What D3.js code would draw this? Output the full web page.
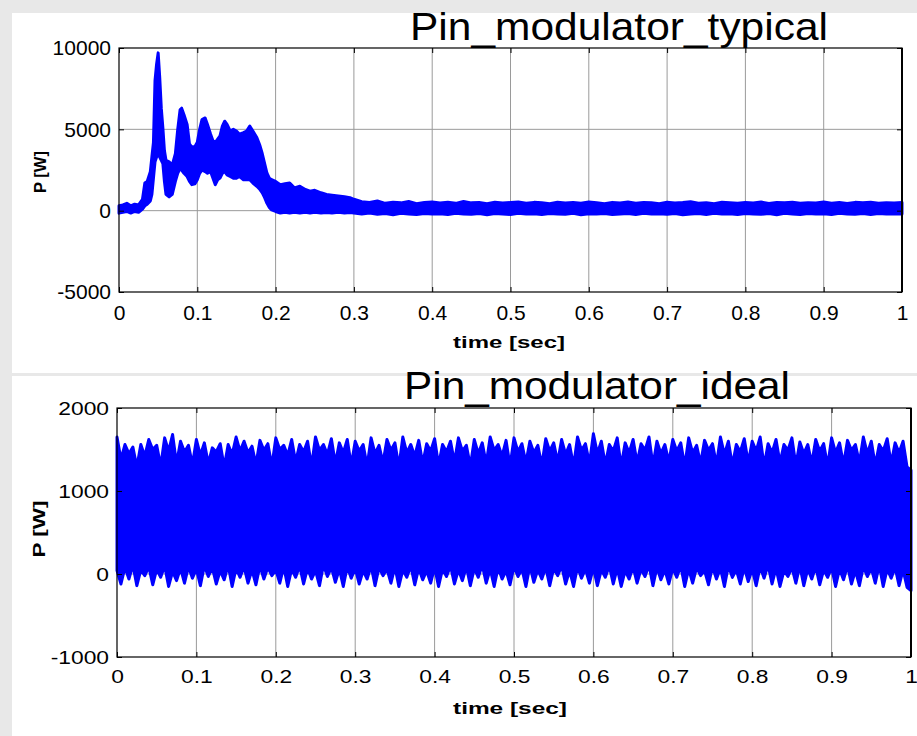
<!DOCTYPE html>
<html>
<head>
<meta charset="utf-8">
<script src="https://cdn.jsdelivr.net/npm/d3@7"></script>
<style>
  html, body { margin: 0; padding: 0; background: #e8e8e8; }
  svg { display: block; }
  text { font-family: "Liberation Sans", Arial, sans-serif; }
</style>
</head>
<body>
<svg id="chart" width="917" height="736"></svg>
<script>
// ---------------- DATA ----------------
const xTicks = [0, 0.1, 0.2, 0.3, 0.4, 0.5, 0.6, 0.7, 0.8, 0.9, 1];
const xTickLabels = ["0", "0.1", "0.2", "0.3", "0.4", "0.5", "0.6", "0.7", "0.8", "0.9", "1"];
const topYTicks = [-5000, 0, 5000, 10000];
const topYTickLabels = ["-5000", "0", "5000", "10000"];
const botYTicks = [-1000, 0, 1000, 2000];
const botYTickLabels = ["-1000", "0", "1000", "2000"];
const titles = ["Pin_modulator_typical", "Pin_modulator_ideal"];
const xLabel = "time [sec]";
const yLabel = "P [W]";

// Top panel (typical): time, upper and lower envelope of the fast oscillation
const topTime = [0, 0.005, 0.01, 0.015, 0.02, 0.025, 0.03, 0.033, 0.036, 0.04, 0.042, 0.044, 0.046, 0.048, 0.05,
  0.052, 0.054, 0.056, 0.058, 0.06, 0.064, 0.068, 0.072, 0.075, 0.078, 0.08, 0.083, 0.087, 0.09, 0.093, 0.097,
  0.1, 0.103, 0.106, 0.11, 0.113, 0.117, 0.12, 0.123, 0.126, 0.129, 0.132, 0.135, 0.138, 0.142, 0.146, 0.15,
  0.154, 0.159, 0.163, 0.167, 0.171, 0.176, 0.18, 0.183, 0.186, 0.189, 0.192, 0.195, 0.2, 0.206, 0.212, 0.218,
  0.224, 0.231, 0.238, 0.244, 0.25, 0.258, 0.265, 0.272, 0.28, 0.288, 0.295, 0.3,
  0.31, 0.32, 0.33, 0.34, 0.35, 0.36, 0.37, 0.38, 0.39, 0.4, 0.41, 0.42, 0.43, 0.44, 0.45, 0.46, 0.47, 0.48, 0.49,
  0.5, 0.51, 0.52, 0.53, 0.54, 0.55, 0.56, 0.57, 0.58, 0.59, 0.6, 0.61, 0.62, 0.63, 0.64, 0.65, 0.66, 0.67, 0.68,
  0.69, 0.7, 0.71, 0.72, 0.73, 0.74, 0.75, 0.76, 0.77, 0.78, 0.79, 0.8, 0.81, 0.82, 0.83, 0.84, 0.85, 0.86, 0.87,
  0.88, 0.89, 0.9, 0.91, 0.92, 0.93, 0.94, 0.95, 0.96, 0.97, 0.98, 0.99, 1];
const topHigh = [300, 350, 450, 300, 400, 350, 700, 1700, 1800, 2400, 3300, 4200, 8000, 9000, 9700,
  8200, 6300, 5100, 3700, 3100, 3000, 2800, 3500, 5000, 6200, 6300, 5900, 5300, 4100, 3900, 3950,
  4200, 5000, 5600, 5700, 5300, 4700, 4300, 4200, 4400, 4600, 5200, 5500, 5300, 4900, 5000, 4900,
  4700, 4800, 4900, 5200, 4900, 4500, 4000, 3500, 2900, 2300, 2000, 1900, 1800, 1600, 1650, 1700,
  1400, 1500, 1300, 1200, 1250, 1100, 1000, 950, 900, 850, 800, 700,
  550, 500, 600, 450, 520, 480, 560, 430, 500, 540, 470, 520, 450, 560, 480, 500, 430, 520, 470,
  500, 540, 450, 510, 480, 430, 520, 470, 500, 450, 540, 480, 420, 510, 470, 530, 450, 500, 480,
  430, 520, 470, 500, 550, 460, 490, 430, 520, 480, 450, 510, 470, 530, 440, 500, 480, 520, 450,
  490, 470, 530, 460, 500, 440, 510, 480, 520, 450, 490, 470, 500];
const topLow = [-150, -100, -50, -150, -50, -100, 100, 300, 400, 600, 1000, 2000, 3000, 3300, 3500,
  3300, 3100, 2900, 1800, 1000, 850, 1000, 1800, 2300, 2600, 2500, 2300, 2100, 1800, 1600, 1650,
  1900, 2300, 2500, 2400, 2300, 2400, 2000, 1600, 1900, 2000, 2300, 2400, 2200, 2100, 2000, 2000,
  2100, 1900, 1900, 1900, 1700, 1500, 1300, 1100, 800, 450, 200, 50, -50, -150, -100, -150,
  -100, -150, -100, -150, -100, -150, -120, -150, -100, -150, -120, -150,
  -200, -150, -220, -180, -250, -160, -200, -230, -170, -210, -190, -240, -160, -200, -220, -180, -250, -170, -200,
  -230, -160, -210, -190, -240, -170, -200, -220, -160, -250, -190, -210, -170, -230, -200, -180, -240, -160, -210,
  -190, -220, -170, -250, -200, -180, -230, -160, -210, -190, -240, -170, -200, -220, -180, -250, -160, -200, -230,
  -170, -210, -190, -240, -160, -200, -220, -180, -230, -170, -200, -190, -210];

// Bottom panel (ideal): samples every 0.005 s, upper and lower envelope
const botTime = d3.range(0, 201).map(i => +(i * 0.005).toFixed(3));
const botHigh = [
  1650, 1380, 1560, 1450, 1530, 1290, 1560, 1420, 1620, 1500, 1550, 1300, 1640, 1480, 1680, 1330, 1600, 1470, 1550, 1320,
  1620, 1430, 1580, 1330, 1520, 1470, 1570, 1290, 1560, 1440, 1650, 1480, 1600, 1460, 1540, 1320, 1610, 1490, 1570, 1300,
  1640, 1500, 1550, 1430, 1620, 1350, 1560, 1470, 1600, 1300, 1650, 1490, 1560, 1440, 1630, 1330, 1580, 1460, 1620, 1310,
  1600, 1480, 1560, 1300, 1640, 1450, 1550, 1340, 1620, 1490, 1580, 1290, 1650, 1460, 1560, 1420, 1610, 1330, 1570, 1480,
  1630, 1310, 1560, 1470, 1600, 1350, 1640, 1480, 1550, 1300, 1620, 1450, 1580, 1330, 1650, 1490, 1560, 1420, 1610, 1300,
  1640, 1470, 1570, 1340, 1600, 1460, 1550, 1310, 1630, 1480, 1580, 1350, 1620, 1440, 1560, 1300, 1650, 1490, 1570, 1330,
  1690, 1450, 1600, 1320, 1560, 1480, 1640, 1300, 1580, 1460, 1620, 1340, 1570, 1490, 1650, 1310, 1600, 1450, 1560, 1350,
  1620, 1480, 1580, 1300, 1640, 1460, 1550, 1330, 1610, 1490, 1570, 1320, 1650, 1440, 1600, 1310, 1560, 1470, 1630, 1340,
  1600, 1480, 1650, 1300, 1570, 1460, 1620, 1340, 1560, 1490, 1640, 1310, 1590, 1450, 1560, 1330, 1620, 1480, 1570, 1300,
  1640, 1460, 1580, 1320, 1610, 1490, 1560, 1340, 1650, 1450, 1600, 1310, 1560, 1480, 1630, 1330, 1580, 1460, 1600, 1290,
  1250];
const botLow = [
  40, -120, 80, -60, 110, -140, 50, -20, 90, -130, 60, -40, 100, -150, 30, -80, 70, -110, 90, -50,
  60, -140, 100, -30, 80, -120, 40, -70, 110, -150, 70, -40, 90, -110, 50, -130, 100, -60, 80, -20,
  50, -110, 90, -150, 60, -40, 100, -120, 70, -60, 40, -140, 110, -30, 80, -100, 60, -150, 90, -50,
  70, -120, 40, -60, 100, -140, 80, -20, 60, -110, 90, -150, 50, -40, 100, -130, 70, -70, 40, -110,
  80, -150, 60, -30, 100, -120, 50, -80, 90, -140, 70, -40, 110, -110, 60, -150, 80, -60, 40, -130,
  90, -30, 60, -150, 100, -100, 50, -60, 80, -140, 70, -20, 100, -120, 40, -150, 90, -50, 60, -110,
  80, -140, 50, -40, 100, -120, 70, -150, 40, -60, 90, -110, 60, -30, 110, -140, 80, -70, 50, -120,
  70, -40, 100, -150, 60, -110, 80, -20, 40, -130, 90, -60, 70, -150, 100, -40, 50, -120, 80, -90,
  60, -140, 90, -50, 110, -120, 70, -150, 40, -30, 80, -110, 100, -140, 60, -60, 90, -130, 50, -40,
  80, -150, 60, -70, 100, -120, 40, -140, 90, -30, 70, -110, 110, -150, 60, -50, 80, -140, 50, -160,
  -200];

// ---------------- DRAWING ----------------
const svg = d3.select("#chart");
svg.append("rect").attr("x", 0).attr("y", 0).attr("width", 917).attr("height", 736).attr("fill", "#e8e8e8");
svg.append("rect").attr("x", 12).attr("y", 13).attr("width", 905).attr("height", 360).attr("fill", "#ffffff");
svg.append("rect").attr("x", 12).attr("y", 376).attr("width", 905).attr("height", 360).attr("fill", "#ffffff");

function stretch(sel, factor) {
  sel.each(function () {
    const len = this.getComputedTextLength();
    d3.select(this).attr("textLength", len * factor).attr("lengthAdjust", "spacingAndGlyphs");
  });
}

function panel(cfg) {
  const g = svg.append("g");
  const x = d3.scaleLinear().domain([0, 1]).range([cfg.left, cfg.right]);
  const y = d3.scaleLinear().domain(cfg.yDomain).range([cfg.bottom, cfg.top]);

  // grid
  g.append("g").selectAll("line").data(xTicks.slice(1, -1)).join("line")
    .attr("x1", d => x(d)).attr("x2", d => x(d))
    .attr("y1", cfg.top).attr("y2", cfg.bottom)
    .attr("stroke", "#9a9a9a").attr("stroke-width", 1);
  g.append("g").selectAll("line").data(cfg.yTicks.slice(1, -1)).join("line")
    .attr("y1", d => y(d)).attr("y2", d => y(d))
    .attr("x1", cfg.left).attr("x2", cfg.right)
    .attr("stroke", "#9a9a9a").attr("stroke-width", 1);

  // data band (upper and lower envelope of the oscillating power)
  const n = Math.min(cfg.time.length, cfg.high.length, cfg.low.length);
  const data = cfg.time.slice(0, n).map((t, i) => ({ t: t, hi: cfg.high[i], lo: cfg.low[i] }));
  const area = d3.area().x(d => x(d.t)).y0(d => y(d.lo)).y1(d => y(d.hi));
  g.append("path").attr("d", area(data))
    .attr("fill", "#0000ff").attr("stroke", "#0000ff")
    .attr("stroke-width", 3).attr("stroke-linejoin", "round");

  // axes (MATLAB style: ticks inside, all four sides)
  const fmtX = d => xTickLabels[xTicks.indexOf(d)];
  const fmtY = d => cfg.yTickLabels[cfg.yTicks.indexOf(d)];

  const ax = g.append("g").attr("transform", `translate(0,${cfg.bottom})`)
    .call(d3.axisBottom(x).tickValues(xTicks).tickFormat(fmtX).tickSizeInner(-5).tickSizeOuter(0).tickPadding(cfg.xPad));
  const ay = g.append("g").attr("transform", `translate(${cfg.left},0)`)
    .call(d3.axisLeft(y).tickValues(cfg.yTicks).tickFormat(fmtY).tickSizeInner(-5).tickSizeOuter(0).tickPadding(8));
  const at = g.append("g").attr("transform", `translate(0,${cfg.top})`)
    .call(d3.axisTop(x).tickValues(xTicks).tickFormat("").tickSizeInner(-5).tickSizeOuter(0));
  const ar = g.append("g").attr("transform", `translate(${cfg.right},0)`)
    .call(d3.axisRight(y).tickValues(cfg.yTicks).tickFormat("").tickSizeInner(-5).tickSizeOuter(0));
  [ax, ay, at, ar].forEach(a => {
    a.select(".domain").remove();
    a.selectAll("line").attr("stroke", "#000");
    a.selectAll("text").attr("fill", "#000").style("font-family", "'Liberation Sans', Arial, sans-serif")
      .style("font-size", cfg.tickFont + "px");
  });
  if (cfg.stretchX !== 1) {
    stretch(ax.selectAll("text"), cfg.stretchX);
    stretch(ay.selectAll("text"), cfg.stretchX);
  }

  // box
  g.append("rect").attr("x", cfg.left).attr("y", cfg.top)
    .attr("width", cfg.right - cfg.left).attr("height", cfg.bottom - cfg.top)
    .attr("fill", "none").attr("stroke", "#000").attr("stroke-width", 1.2);
  g.append("line").attr("x1", cfg.right).attr("x2", cfg.right).attr("y1", cfg.top).attr("y2", cfg.bottom)
    .attr("stroke", "#000").attr("stroke-width", 2);

  // title
  g.append("text").attr("x", cfg.titleX).attr("y", cfg.titleY).attr("text-anchor", "middle")
    .style("font-size", "39px").attr("fill", "#000")
    .attr("textLength", cfg.titleLen).attr("lengthAdjust", "spacingAndGlyphs")
    .text(cfg.title);

  // x label
  g.append("text").attr("x", cfg.xLabelX).attr("y", cfg.xLabelY).attr("text-anchor", "middle")
    .style("font-size", "16px").style("font-weight", "bold").attr("fill", "#000")
    .attr("textLength", cfg.xLabelLen).attr("lengthAdjust", "spacingAndGlyphs")
    .text(xLabel);

  // y label
  g.append("text").attr("transform", `translate(${cfg.yLabelX},${cfg.yLabelY}) rotate(-90)`)
    .attr("text-anchor", "middle")
    .style("font-size", cfg.yLabelFont + "px").style("font-weight", "bold").attr("fill", "#000")
    .attr("textLength", cfg.yLabelLen).attr("lengthAdjust", "spacingAndGlyphs")
    .text(yLabel);
}

panel({
  left: 119, right: 902, top: 48, bottom: 292,
  yDomain: [-5000, 10000], yTicks: topYTicks, yTickLabels: topYTickLabels,
  time: topTime, high: topHigh, low: topLow,
  tickFont: 21, stretchX: 1, xPad: 13,
  title: titles[0], titleX: 619, titleY: 40, titleLen: 418,
  xLabelX: 509, xLabelY: 348, xLabelLen: 112,
  yLabelX: 46, yLabelY: 172, yLabelFont: 16, yLabelLen: 42
});

panel({
  left: 117, right: 911, top: 408, bottom: 657,
  yDomain: [-1000, 2000], yTicks: botYTicks, yTickLabels: botYTickLabels,
  time: botTime, high: botHigh, low: botLow,
  tickFont: 19, stretchX: 1.2, xPad: 13,
  title: titles[1], titleX: 597, titleY: 399, titleLen: 386,
  xLabelX: 510, xLabelY: 714, xLabelLen: 114,
  yLabelX: 45, yLabelY: 529, yLabelFont: 17, yLabelLen: 57
});
</script>
</body>
</html>
